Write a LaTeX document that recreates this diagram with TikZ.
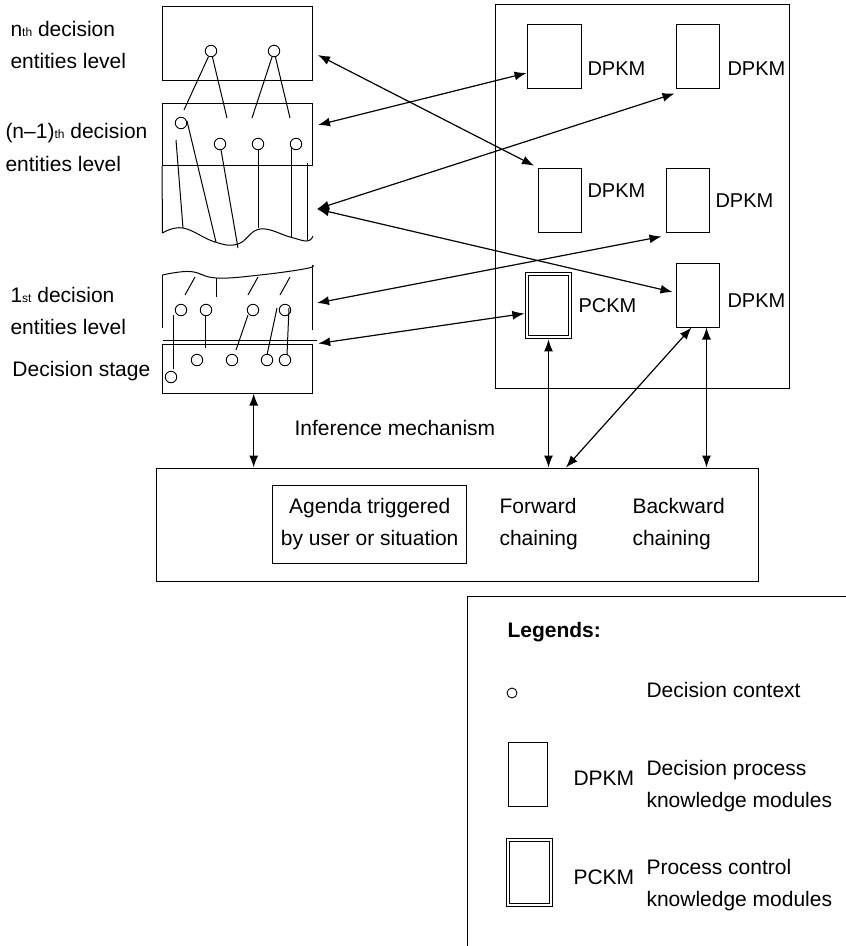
\documentclass[tikz,border=0pt]{standalone}
\usepackage{fontspec}
\setmainfont{Liberation Sans}
\usetikzlibrary{arrows.meta}

\newcommand{\lsub}[1]{{\fontsize{12}{12}\selectfont #1}}

\begin{document}
\begin{tikzpicture}[x=1pt, y=-1pt, line width=1pt,
  every node/.style={font=\fontsize{21}{32.5}\selectfont},
  km/.style={draw, inner sep=0pt, minimum width=#1, minimum height=64pt},
  km/.default=43pt,
  pc/.style={draw, double, double distance=2.4pt, line width=0.8pt, inner sep=0pt, minimum width=43pt, minimum height=63pt},
  ctx/.style={circle, draw, line width=0.9pt, inner sep=0pt, minimum size=11.5pt},
  lbl/.style={anchor=west, align=left, inner sep=0pt},
  kml/.style={lbl, font=\fontsize{20}{24}\selectfont},
  dbl/.style={{Latex[length=12pt,width=9pt]}-{Latex[length=12pt,width=9pt]}, line width=1.2pt}
]
\useasboundingbox (0,0) rectangle (846,946);

\node[lbl] (tn)  at (10,45)    {n\lsub{th} decision\\entities level};
\node[lbl] (tm)  at (5,147.5)  {(n–1)\lsub{th} decision\\entities level};
\node[lbl] (t1)  at (10,311)   {1\lsub{st} decision\\entities level};
\node[lbl] (tds) at (12,371)   {Decision stage};

\node[draw, minimum width=150pt, minimum height=74pt] (lvn) at (237.5,43) {};
\node[draw, minimum width=150pt, minimum height=62pt] (lvm) at (237.5,134) {};
\node[draw, minimum width=150pt, minimum height=49pt] (ds)  at (237.7,368.5) {};

\foreach \n/\x/\y in {n1/211/51, n2/274/51, m1/181/123, m2/220/144, m3/258/144, m4/296/144,
    f1/181/310, f2/206/310, f3/253/310, f4/285/310, s0/171/377, s1/197/360, s2/232/360, s3/267/360, s4/285/360}
  \node[ctx] (\n) at (\x,\y) {};

\draw (n1) -- (184,110);
\draw (n1) -- (227,118);
\draw (n2) -- (252,118);
\draw (n2) -- (290,118);

\draw (187,121) -- (216,242);
\draw (176,140) -- (183,228);
\draw (m2) -- (238,248);
\draw (m3) -- (258,228);
\draw (291,148) -- (291,237);
\draw (307,163) -- (307,240);
\draw (lvm.south west) -- (162.5,233);
\draw plot[smooth, tension=0.7] coordinates {(162.5,233) (183,228) (215,242) (238,244) (260,229) (290,237) (307,241) (313,236)};

\draw plot[smooth, tension=0.7] coordinates {(162.5,275) (190,271.5) (216.5,278) (260,275) (306.5,268.5) (312.5,265)};
\draw (162.5,275) -- (162.5,328);
\draw (312.5,265) -- (312.5,330);
\draw (195,277) -- (185,295);
\draw (216.5,278) -- (216.5,297);
\draw (258,277) -- (248,295);
\draw (290,277) -- (280,295);
\draw (162.5,340) -- (316.5,340);

\draw (173,315) -- (173,369);
\draw (205,315) -- (205,348);
\draw (248,315) -- (236,350);
\draw (277,308) -- (267,355);
\draw (289,308) -- (287,355);

\node[draw, minimum width=294pt, minimum height=384pt] (kb) at (642,196) {};
\node[km=54pt] (d1) at (554,56) {};
\node[km] (d2) at (697.5,56) {};
\node[km] (d3) at (559.5,200) {};
\node[km] (d4) at (687.5,200) {};
\node[km] (d5) at (697.5,295) {};
\node[pc] (pc) at (548.5,305.5) {};
\node[kml] (l1) at (587,69)  {DPKM};
\node[kml] (l2) at (727,69)  {DPKM};
\node[kml] (l3) at (587,191) {DPKM};
\node[kml] (l4) at (715,201) {DPKM};
\node[kml] (l5) at (727,301) {DPKM};
\node[kml] (lp) at (578,306) {PCKM};

\coordinate (mid) at (317,209);
\coordinate (fst) at (317,303);
\draw[dbl, shorten >=4pt] ([xshift=5pt,yshift=-12pt]lvn.east) -- (d3.north west);
\draw[dbl] ([xshift=5pt,yshift=9pt]lvm.east) -- ([yshift=-17pt]d1.west);
\draw[dbl] (mid) -- ([xshift=-1pt,yshift=-5pt]d2.south west);
\draw[dbl] (mid) -- ([xshift=-3pt,yshift=3pt]d5.west);
\draw[dbl] (fst) -- ([xshift=-4pt,yshift=-4pt]d4.south west);
\draw[dbl] ([xshift=5pt]ds.north east) -- ([xshift=-2.2pt,yshift=-8pt]pc.west);

\node[draw, minimum width=602pt, minimum height=113pt] (inf) at (457,524.5) {};
\node[draw, align=center, inner sep=0pt, minimum width=193.5pt, minimum height=78pt] (agenda) at (369.7,524) {Agenda triggered\\by user or situation};
\node[lbl] (fwd)  at (499,524) {Forward\\chaining};
\node[lbl] (bwd)  at (632,524) {Backward\\chaining};
\node[lbl] (mech) at (294,428) {Inference mechanism};

\draw[dbl] ([xshift=16pt]ds.south) -- ([xshift=16pt]ds.south |- inf.north);
\draw[dbl, shorten <=2pt] (pc.south) -- (pc.south |- inf.north);
\draw[dbl] ([xshift=9pt]d5.south) -- ([xshift=9pt]d5.south |- inf.north);
\draw[dbl] ([xshift=-6pt]d5.south) -- ([xshift=109pt]inf.north);

\draw (846,596) -| (467,946);
\node[lbl, font=\fontsize{21}{24}\selectfont\bfseries] (leg) at (507,632) {Legends:};
\node[ctx, minimum size=10pt] (lc) at (512,693) {};
\node[lbl] (lct) at (646,690) {Decision context};
\node[km=39pt] (ld) at (527.5,774) {};
\node[lbl] (ldn) at (573,778) {DPKM};
\node[lbl] (ldt) at (646,786) {Decision process\\knowledge modules};
\node[pc, minimum height=65pt] (lpk) at (529.5,872.5) {};
\node[lbl] (lpn) at (573,877) {PCKM};
\node[lbl] (lpt) at (646,885) {Process control\\knowledge modules};
\end{tikzpicture}
\end{document}
